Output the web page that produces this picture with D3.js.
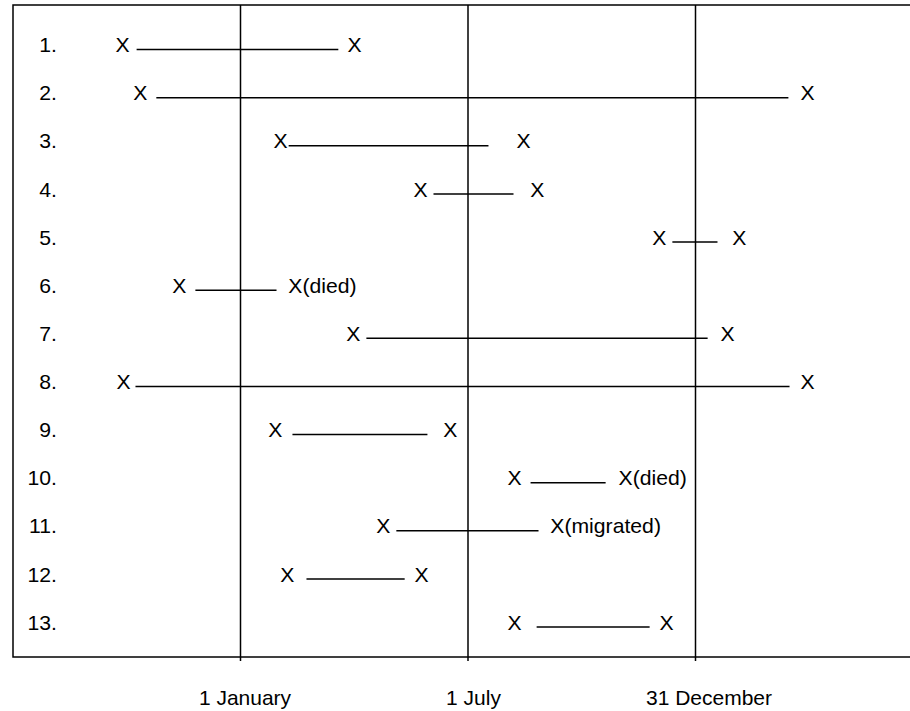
<!DOCTYPE html>
<html><head><meta charset="utf-8">
<script src="https://cdn.jsdelivr.net/npm/d3@7"></script>
<style>html,body{margin:0;padding:0;background:#fff;}</style>
</head><body>
<svg id="chart" width="910" height="711"></svg>
<script>
// Rows (subjects)
const rows = ["1.","2.","3.","4.","5.","6.","7.","8.","9.","10.","11.","12.","13."];
// Positions in months from 1 January (0 = 1 Jan, 6 = 1 July, 12 = 31 December)
const startMark = [-3.30,-2.83,0.87,4.56,10.86,-1.80,2.79,-3.27,0.73,7.04,3.58,1.05,7.04];
const lineStart = [-2.74,-2.22,1.27,5.09,11.39,-1.19,3.32,-2.77,1.37,7.65,4.11,1.74,7.81];
const lineEnd   = [2.58,14.45,6.54,7.20,12.58,0.95,12.32,14.48,4.93,9.63,7.86,4.33,10.79];
const endMark   = [2.82,14.77,7.28,7.64,12.97,1.26,12.66,14.77,5.35,9.97,8.17,4.59,11.05];
const endLabels = ["X","X","X","X","X","X(died)","X","X","X","X(died)","X(migrated)","X","X"];
const startLabel = "X";
// Reference dates
const tickValues = [0, 6, 12];
const tickLabels = ["1 January","1 July","31 December"];

(function(){
const svg = d3.select("#chart");
const font = "'Liberation Sans', Arial, sans-serif";
const x = d3.scaleLinear().domain([-6, 18]).range([13, 923]);
const y = d3.scalePoint().domain(rows).range([49.5, 627]);
const yTop = 5, yBottom = 657;

svg.append("rect").attr("x", x(-6)).attr("y", yTop)
  .attr("width", x(18) - x(-6)).attr("height", yBottom - yTop)
  .attr("fill", "none").attr("stroke", "#000").attr("stroke-width", 1.5);

svg.selectAll("line.ref").data(tickValues).join("line").attr("class","ref")
  .attr("x1", d => x(d)).attr("x2", d => x(d))
  .attr("y1", yTop).attr("y2", yBottom + 4)
  .attr("stroke", "#000").attr("stroke-width", 1.5);

function txt(g, s, px, py, anchor, size, sx) {
  g.append("text").attr("transform", `translate(${px},${py}) scale(${sx},1)`)
    .attr("text-anchor", anchor || "start")
    .attr("font-family", font).attr("font-size", size).attr("fill", "#000").text(s);
}

const g = svg.append("g");
rows.forEach((r, i) => {
  const yy = y(r);
  txt(g, r, 57, yy + 2.7, "end", 20, 1.06);
  txt(g, startLabel, x(startMark[i]), yy + 2.7, "start", 20, 1.06);
  g.append("line").attr("x1", x(lineStart[i])).attr("x2", x(lineEnd[i]))
    .attr("y1", yy).attr("y2", yy).attr("stroke", "#000").attr("stroke-width", 1.5);
  txt(g, endLabels[i], x(endMark[i]), yy + 2.7, "start", 20, 1.06);
});

const labelDx = [4.5, 5.5, 13.5];
tickValues.forEach((t, i) => {
  txt(g, tickLabels[i], x(t) + labelDx[i], 704.5, "middle", 21, 1.0);
});
})();
</script>
</body></html>
